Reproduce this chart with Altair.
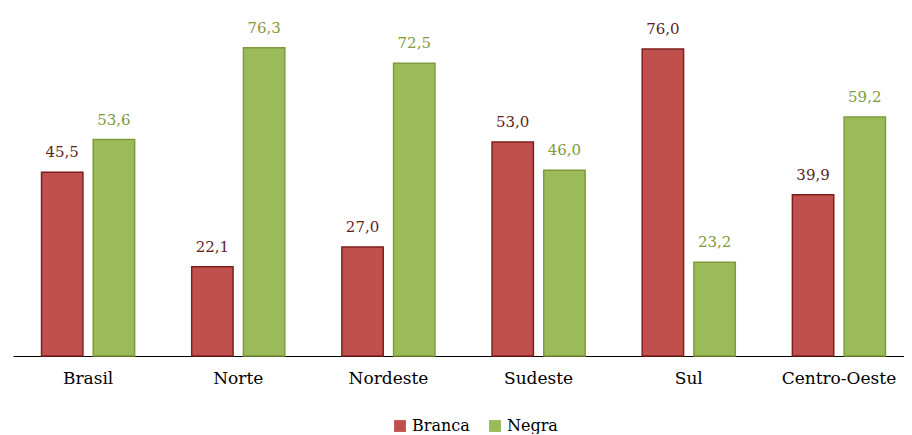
import altair as alt
import pandas as pd

regions = ["Brasil", "Norte", "Nordeste", "Sudeste", "Sul", "Centro-Oeste"]
branca = [45.5, 22.1, 27.0, 53.0, 76.0, 39.9]
negra = [53.6, 76.3, 72.5, 46.0, 23.2, 59.2]
groups = ["Branca", "Negra"]

rows = []
for r, b, n in zip(regions, branca, negra):
    rows.append({"regiao": r, "grupo": "Branca", "valor": b})
    rows.append({"regiao": r, "grupo": "Negra", "valor": n})
df = pd.DataFrame(rows)
df["rotulo"] = df["valor"].map(lambda v: f"{v:.1f}".replace(".", ","))

fill_colors = ["#C0504D", "#9BBB59"]
stroke_colors = ["#7E1F1D", "#7F9A3C"]
label_colors = ["#5C1F1C", "#7F9A3C"]

FONT = "DejaVu Serif"

x = alt.X("regiao:N", sort=regions, title=None,
          scale=alt.Scale(paddingInner=0.38, paddingOuter=0.19, range=[5, 906]),
          axis=alt.Axis(labelAngle=0, labelFont=FONT, labelFontSize=17,
                        labelColor="#000000", ticks=False, labelPadding=14,
                        domainColor="#000000", domainWidth=1.2, grid=False))
y = alt.Y("valor:Q", title=None, scale=alt.Scale(domain=[0, 83.2], nice=False),
          axis=None)
xoff = alt.XOffset("grupo:N", sort=groups,
                   scale=alt.Scale(paddingInner=0.2, paddingOuter=0))

bars = alt.Chart(df).mark_bar(strokeWidth=1.5).encode(
    x=x, y=y, xOffset=xoff,
    color=alt.Color("grupo:N", sort=groups,
                    scale=alt.Scale(domain=groups, range=fill_colors),
                    legend=alt.Legend(title=None, orient="none", direction="horizontal",
                                      legendX=384, legendY=398, padding=0,
                                      labelFont=FONT, labelFontSize=16,
                                      labelColor="#000000", symbolType="square",
                                      symbolSize=140, symbolStrokeWidth=1.5,
                                      columnPadding=17, labelOffset=4)),
    stroke=alt.Stroke("grupo:N", sort=groups,
                      scale=alt.Scale(domain=groups, range=stroke_colors),
                      legend=None),
)

labels = alt.Chart(df).mark_text(dy=-12, font=FONT, fontSize=15, baseline="bottom").encode(
    x=x, y=y, xOffset=xoff,
    text="rotulo:N",
    color=alt.Color("grupo:N", sort=groups,
                    scale=alt.Scale(domain=groups, range=label_colors),
                    legend=None),
)

chart = alt.layer(bars, labels).resolve_scale(color="independent").properties(
    width=896, height=336,
    autosize=alt.AutoSizeParams(type="none"),
    padding={"left": 0, "top": 12, "right": 0, "bottom": 78},
    background="#ffffff",
).configure(font=FONT, view=alt.ViewConfig(stroke=None))

chart.save("out.html", embed_options={"renderer": "svg", "actions": False})
